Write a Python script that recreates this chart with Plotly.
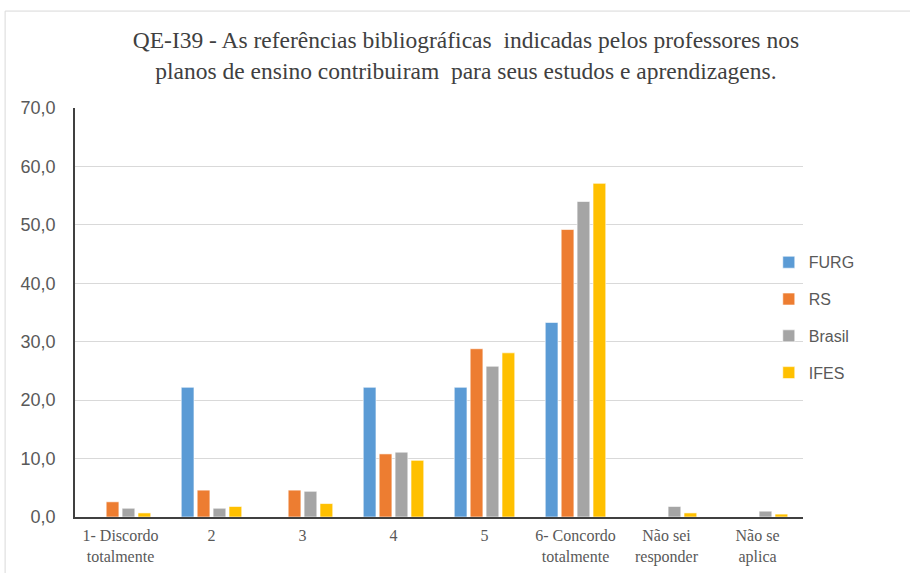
import plotly.graph_objects as go

# categorias e valores (%)
categorias = ["1- Discordo<br>totalmente", "2", "3", "4", "5",
              "6- Concordo<br>totalmente", "Não sei<br>responder", "Não se<br>aplica"]
furg = [0.0, 22.2, 0.0, 22.2, 22.2, 33.3, 0.0, 0.0]
rs = [2.6, 4.6, 4.6, 10.8, 28.8, 49.2, 0.0, 0.0]
brasil = [1.5, 1.5, 4.4, 11.1, 25.8, 54.0, 1.8, 1.0]
ifes = [0.7, 1.8, 2.3, 9.7, 28.1, 57.1, 0.7, 0.5]

series = [("FURG", furg, "#5B9BD5"), ("RS", rs, "#ED7D31"),
          ("Brasil", brasil, "#A5A5A5"), ("IFES", ifes, "#FFC000")]

fig = go.Figure()
for nome, vals, cor in series:
    fig.add_trace(go.Bar(
        x=categorias, y=vals, name=nome, legendgroup=nome,
        marker=dict(color=cor, line=dict(color="rgba(255,255,255,0.6)", width=1))
    ))

serif = "Liberation Serif, Times New Roman, serif"
sans = "Liberation Sans, Arial, sans-serif"

fig.update_layout(
    width=910, height=573,
    paper_bgcolor="white", plot_bgcolor="white",
    margin=dict(l=75, r=107, t=108, b=56),
    separators=",.",
    barmode="group", bargap=0.3, bargroupgap=0.2,
    title=dict(
        text="QE-I39 - As referências bibliográficas  indicadas pelos professores nos<br>"
             "planos de ensino contribuiram  para seus estudos e aprendizagens.",
        x=0.512, xanchor="center", y=0.916, yanchor="middle",
        font=dict(family=serif, size=23.5, color="#404040")
    ),
    xaxis=dict(
        showline=True, linecolor="#404040", linewidth=1.5, automargin=False,
        ticks="", ticklabelstandoff=3,
        tickfont=dict(family=serif, size=16, color="#595959")
    ),
    yaxis=dict(
        range=[0, 70], dtick=10, tickformat=".1f", automargin=False,
        showline=True, linecolor="#404040", linewidth=1.5,
        gridcolor="#D9D9D9", gridwidth=1, zeroline=False,
        ticks="", ticklabelstandoff=14,
        tickfont=dict(family=sans, size=18, color="#595959")
    ),
    legend=dict(
        x=0.953, y=0.487, xanchor="left", yanchor="middle",
        font=dict(family=sans, size=16, color="#595959"),
        tracegroupgap=13, bgcolor="rgba(255,255,255,0)"
    ),
    shapes=[dict(type="rect", xref="paper", yref="paper",
                 x0=-0.096, x1=1.2, y0=-0.3, y1=1.237,
                 line=dict(color="#D9D9D9", width=1))]
)

# remove a margem padrão do body para alinhar com a imagem original
fig.write_html("out.html", config={"displayModeBar": False},
               post_script="document.body.style.margin='0';")
